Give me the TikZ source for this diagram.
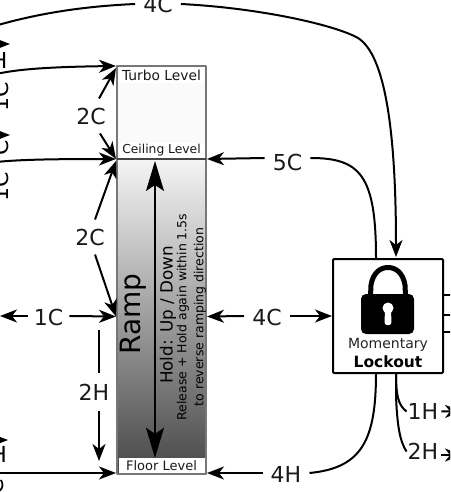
\documentclass[tikz,border=0pt]{standalone}
\usepackage{fontspec}
\setmainfont{DejaVu Sans}
\usetikzlibrary{arrows.meta}
\definecolor{rampedge}{HTML}{777777}
\definecolor{ceilline}{HTML}{444444}
\newcommand{\fsz}[1]{\fontsize{#1}{#1}\selectfont}

\begin{document}
\begin{tikzpicture}[x=1pt,y=-1pt,line join=round,
    wire/.style={line width=2pt,-{Stealth[length=17pt,width=13pt,inset=5pt]}},
    plain/.style={line width=2pt},
    biglbl/.style={font=\fsz{22},inner xsep=8pt,inner ysep=9pt,text=black!90},
    lvl/.style={font=\fsz{13},fill=white,inner sep=0pt,minimum width=85pt,minimum height=15pt,text=black!90},
    band/.style={draw=rampedge,line width=2pt,minimum width=89pt,outer sep=0pt,inner sep=0pt}]
    \useasboundingbox (0,0) rectangle (450,492);
    \clip (0,0) rectangle (450,492);

    \node[band,fill=black!2,minimum height=93pt] (turbo) at (161.5,112.5) {};
    \node[band,top color=black!4,bottom color=black!72,minimum height=315pt] (ramp) at (161.5,316.5) {};
    \draw[color=ceilline,line width=2pt] (turbo.south west) -- (turbo.south east);
    \node[lvl,font=\fsz{13.8}] (turbolvl) at (161.5,75.5) {Turbo Level};
    \node[lvl,font=\fsz{12.3}] (ceillvl) at (161.5,150) {Ceiling Level};
    \node[lvl,minimum width=86pt] (floorlvl) at (161.5,465.5) {Floor Level};

    \node[rotate=90,font=\fsz{28},inner sep=0pt] (ramptxt) at (133,314) {Ramp};
    \node[rotate=90,font=\fsz{16.8},inner sep=0pt] (holdtxt) at (168,315) {Hold: Up / Down};
    \node[rotate=90,font=\fsz{12.5},inner sep=0pt] (reltxt) at (183,317) {Release + Hold again within 1.5s};
    \node[rotate=90,font=\fsz{12.5},inner sep=0pt] (revtxt) at (200,317) {to reverse ramping direction};
    \coordinate (axis) at (155,316);
    \draw[line width=1.6pt,{Stealth[length=30pt,width=18pt,inset=6pt]}-{Stealth[length=30pt,width=18pt,inset=6pt]}]
    ([yshift=-2pt]turbo.south -| axis) -- (floorlvl.north -| axis);

    \node[draw,line width=2pt,fill=white,rounded corners=1pt,minimum width=110pt,minimum height=114pt,outer sep=1pt] (lockbox) at (388,316) {};
    \node[font=\fsz{14},inner sep=0pt,text=black!85] (momtxt) at (388,345) {Momentary};
    \node[font=\fsz{15.5}\bfseries,inner sep=0pt] (locktxt) at (388,362) {Lockout};
    \draw[line width=5pt] (370.5,296) -- (371,285) .. controls (373,273) and (380,267.5) .. (388,267.5) .. controls (396,267.5) and (403,273) .. (405,285) -- (405.5,296);
    \fill[rounded corners=5pt] (361,294) rectangle (414,334);
    \fill[white] (388,308) circle (5.5pt);
    \fill[white,rounded corners=2.5pt] (385,308) -- (391,308) -- (391.5,325) -- (384.5,325) -- cycle;

    \node[biglbl] (topfour) at (158,4) {4C};
    \node[biglbl] (five) at (287.5,162) {5C};
    \node[biglbl] (midfour) at (267,317) {4C};
    \node[biglbl] (fourh) at (286,474) {4H};
    \node[biglbl,inner xsep=6pt] (one) at (48.5,317) {1C};
    \node[biglbl,inner ysep=11pt] (twoh) at (94,392) {2H};
    \node[biglbl] (twoa) at (91,116) {2C};
    \node[biglbl] (twob) at (90,237) {2C};
    \node[biglbl,inner xsep=1pt] (oneh) at (423,411.5) {1H};
    \node[biglbl,inner xsep=1pt] (twohr) at (423,451.5) {2H};

    \node[font=\fsz{22},anchor=east,inner sep=0pt] (edgeha) at (7.5,60) {H};
    \node[font=\fsz{22},anchor=east,inner sep=0pt] (edgehb) at (7,454) {H};
    \node[font=\fsz{22},rotate=90,anchor=south,inner sep=0pt,yshift=1pt] (edgeca) at (10,97) {1C};
    \node[font=\fsz{22},rotate=90,anchor=south,inner sep=0pt,yshift=1pt] (edgecb) at (10,148) {C};
    \node[font=\fsz{22},rotate=90,anchor=south,inner sep=0pt,yshift=1pt] (edgecc) at (10,187) {1C};
    \node[font=\fsz{22},rotate=90,anchor=south,inner sep=0pt,yshift=1pt] (edgecd) at (5,494) {1C};

    \path
    \foreach \n/\x/\y in {ina/-12/76, inb/-12/163, inc/-12/473, ind/-12/44, ine/-12/135, inf/-12/440, leftout/0/316, outa/462/295, outb/462/315, outc/462/332, outd/462/411, oute/462/455, topin/-12/28}
    {coordinate(\n) at (\x,\y)};
    \coordinate (split) at (396,373);

    \draw[plain] (topin) .. controls (40,12) and (90,6) .. (topfour.west);
    \draw[wire] (topfour.east) .. controls (260,8) and (335,25) .. (358,38) .. controls (385,55) and (396,130) .. (396,257);
    \draw[wire] (ina) .. controls (10,70) and (40,67) .. ([xshift=-1pt]turbo.north west);
    \draw[wire] (inb) .. controls (10,160) and (40,159) .. ([xshift=-1pt]turbo.south west);
    \draw[wire] (inc) -- ([xshift=-1pt,yshift=1pt]ramp.south west);
    \draw[wire] (ind) -- (10,44);
    \draw[wire] (ine) -- (10,135);
    \draw[wire] (inf) -- (8,440);

    \draw[wire] ([yshift=1pt]one.west) -- (leftout);
    \draw[wire] ([yshift=1pt]one.east) -- ([xshift=-1pt]ramp.west);
    \draw[wire] ([xshift=8pt]twoa.north) -- ([xshift=-1pt,yshift=-2pt]turbo.north west);
    \draw[wire] ([xshift=9pt]twoa.south) -- ([xshift=-1pt]turbo.south west);
    \draw[wire] ([xshift=5pt]twob.north) -- ([xshift=-1pt,yshift=-2pt]turbo.south west);
    \draw[wire] ([xshift=5pt]twob.south) -- ([xshift=-1pt]ramp.west);
    \draw[plain] (ramp.west -| 99,0) ++(0,13) -- (twoh.north -| 99,0);
    \draw[wire] (twoh.south -| 99,0) -- (99,461);

    \draw[wire] ([yshift=4pt]five.west) -- ([xshift=1pt]turbo.south east);
    \draw[plain] ([yshift=4pt]five.east) .. controls (360,158) and (376,175) .. (376,258);
    \draw[wire] ([yshift=1pt]midfour.west) -- ([xshift=1pt]ramp.east);
    \draw[wire] ([yshift=1pt]midfour.east) -- (lockbox.west);
    \draw[wire] ([yshift=1pt]fourh.west) -- ([xshift=1pt,yshift=1pt]ramp.south east);
    \draw[plain] ([yshift=1pt]fourh.east) .. controls (362,468) and (376,440) .. (376,373);

    \foreach \s/\e in {outa/295, outb/315, outc/332}
    {\draw[plain] (443,\e) -- (\s);}
    \draw[plain] (split) .. controls (396,395) and (398,405) .. (oneh.west);
    \draw[plain] (split) -- (396,395) .. controls (397,425) and (400,442) .. (twohr.west);
    \draw[wire] (oneh.east) ++(2,0) -- (outd);
    \draw[wire] ([yshift=-3.5pt]twohr.east) ++(2,0) -- (oute);
\end{tikzpicture}
\end{document}
